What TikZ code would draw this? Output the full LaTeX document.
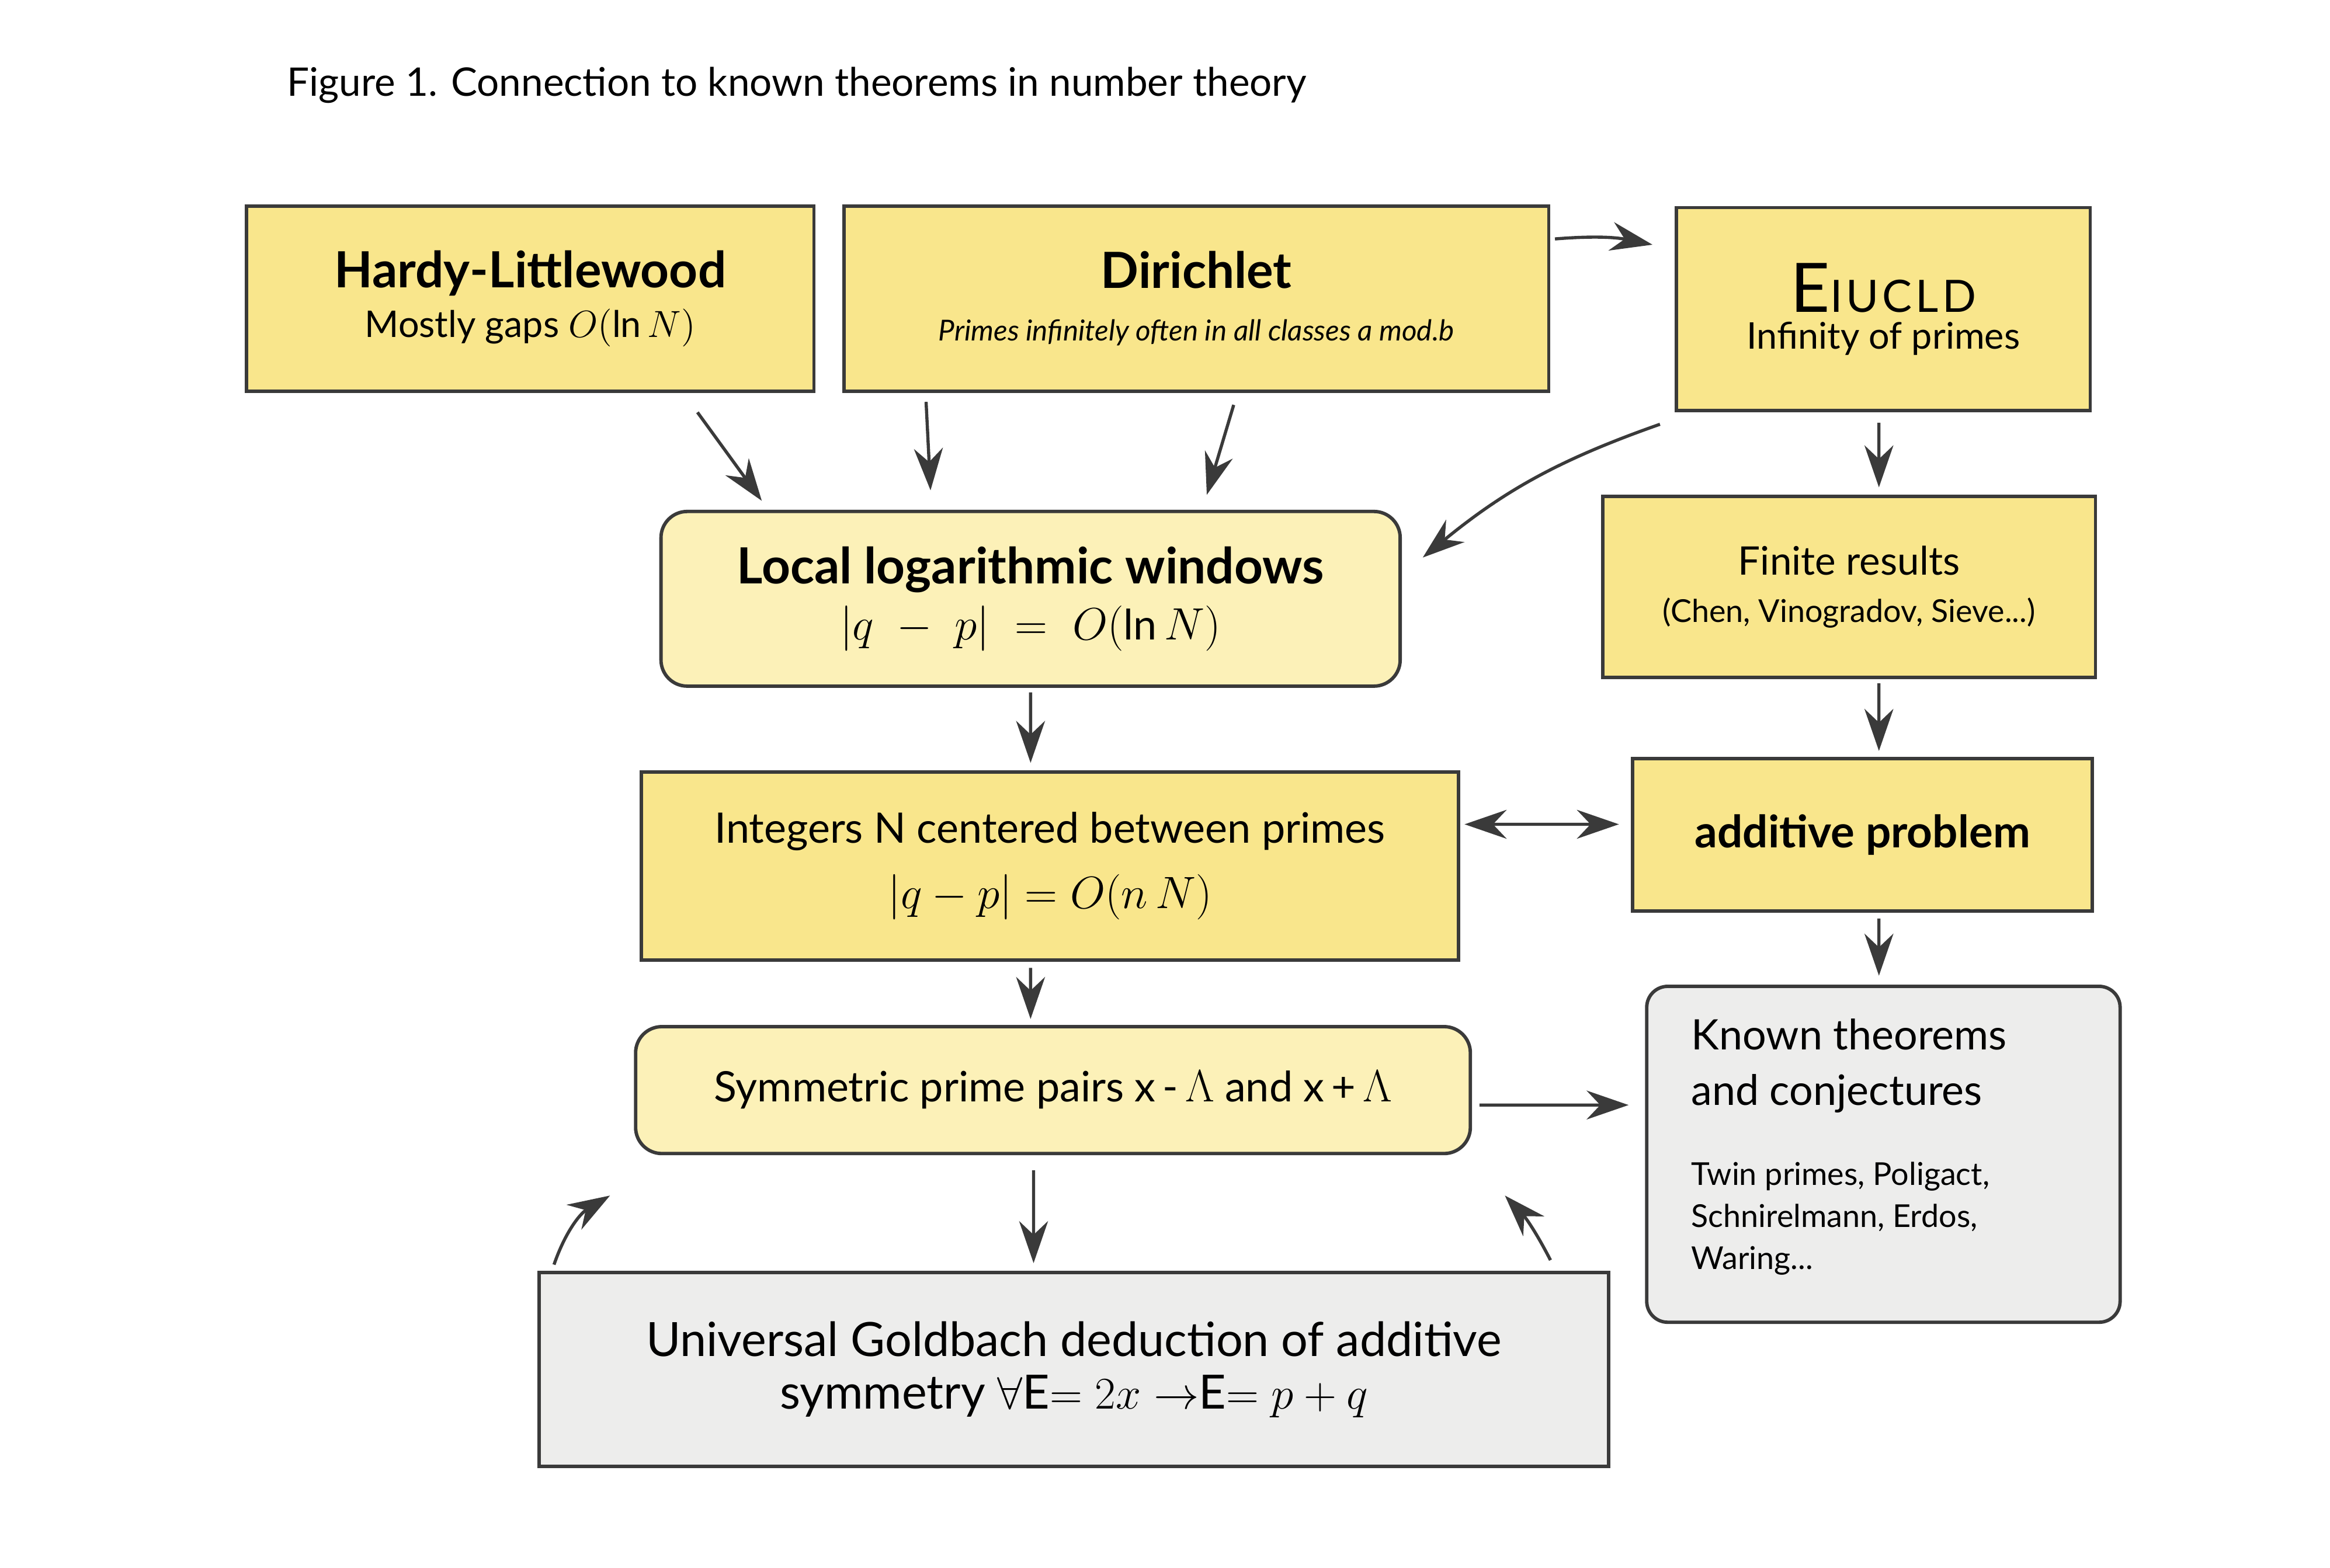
\documentclass[tikz,border=0pt]{standalone}
\usepackage{fontspec}
\setmainfont{Lato}
\usetikzlibrary{arrows.meta}
\definecolor{boxyellow}{HTML}{F9E68C}
\definecolor{paleyellow}{HTML}{FCF1B8}
\definecolor{boxgray}{HTML}{EDEDEC}
\definecolor{edgegray}{HTML}{3A3A3A}
\tikzset{
  box/.style={draw=edgegray, line width=1.3pt, fill=boxyellow, align=center, inner sep=0pt},
  softbox/.style={box, fill=paleyellow, rounded corners=10pt},
  greybox/.style={box, fill=boxgray},
  link/.style={-{Stealth[length=16pt,width=11pt]}, draw=edgegray, line width=1.2pt}
}
\begin{document}
\begin{tikzpicture}[x=0.02cm, y=-0.02cm]
  \useasboundingbox[fill=white] (0,0) rectangle (1560,1050);
  \node[anchor=west, font=\fontsize{15pt}{18pt}\selectfont] (title) at (186,57) {Figure 1. Connection to known theorems in number theory};

  % top row
  \node[box, minimum width=7.6cm, minimum height=2.48cm] (hardy) at (355,200)
    {{\fontsize{19pt}{24pt}\selectfont\bfseries Hardy-Littlewood}\\[4pt]{\fontsize{14pt}{18pt}\selectfont Mostly gaps $O(\ln N)$}};
  \node[box, minimum width=9.44cm, minimum height=2.48cm] (dirichlet) at (801,200)
    {{\fontsize{19pt}{24pt}\selectfont\bfseries Dirichlet}\\[8pt]{\fontsize{11pt}{14pt}\selectfont\itshape Primes infinitely often in all classes a mod.b}};
  \node[box, minimum width=5.54cm, minimum height=2.72cm] (euclid) at (1261,207)
    {{\fontsize{26pt}{30pt}\selectfont E}{\fontsize{17pt}{20pt}\selectfont\addfontfeature{LetterSpace=8} IUCLD}\\[2pt]{\fontsize{14pt}{18pt}\selectfont Infinity of primes}};

  % middle column
  \node[softbox, minimum width=9.9cm, minimum height=2.34cm] (local) at (690,401)
    {{\fontsize{19pt}{24pt}\selectfont\bfseries Local logarithmic windows}\\[4pt]{\fontsize{16pt}{20pt}\selectfont $|q\;-\;p|\;=\;O(\ln N)$}};
  \node[box, minimum width=10.94cm, minimum height=2.52cm] (integers) at (703,580)
    {{\fontsize{16pt}{20pt}\selectfont Integers N centered between primes}\\[8pt]{\fontsize{16pt}{20pt}\selectfont $|q-p|=O(n\,N)$}};
  \node[softbox, minimum width=11.18cm, minimum height=1.7cm] (symmetric) at (705,730)
    {\fontsize{16pt}{20pt}\selectfont Symmetric prime pairs x\,-\,$\Lambda$ and x\,+\,$\Lambda$};
  \node[greybox, minimum width=14.32cm, minimum height=2.6cm] (goldbach) at (719,917)
    {{\fontsize{18pt}{23pt}\selectfont Universal Goldbach deduction of additive}\\[6pt]{\fontsize{18pt}{23pt}\selectfont symmetry $\forall$E$=2x\to$E$=p+q$}};

  % right column
  \node[box, minimum width=6.6cm, minimum height=2.42cm] (finite) at (1238,393)
    {{\fontsize{15pt}{19pt}\selectfont Finite results}\\[6pt]{\fontsize{12pt}{15pt}\selectfont (Chen, Vinogradov, Sieve...)}};
  \node[box, minimum width=6.16cm, minimum height=2.04cm] (additive) at (1247,559)
    {\fontsize{17pt}{21pt}\selectfont\bfseries additive problem};
  \node[greybox, rounded corners=8pt, minimum width=6.34cm, minimum height=4.5cm] (known) at (1261,773) {};
  \node[anchor=north west, align=left, inner sep=0pt, font=\fontsize{16pt}{21pt}\selectfont] (knowntitle) at (1132,682)
    {Known theorems\\and conjectures};
  \node[anchor=north west, align=left, inner sep=0pt, font=\fontsize{12pt}{16pt}\selectfont] (knownlist) at (1132,778)
    {Twin primes, Poligact,\\Schnirelmann, Erdos,\\Waring...};

  % connectors
  \draw[link] ([xshift=0.06cm,yshift=0.8cm]dirichlet.east) to[bend left=8] ([xshift=-0.3cm,yshift=-0.52cm]euclid.north west);
  \draw[link] ([xshift=2.24cm,yshift=-0.26cm]hardy.south) -- ([xshift=-3.6cm,yshift=0.12cm]local.north);
  \draw[link] ([xshift=-3.62cm,yshift=-0.12cm]dirichlet.south) -- ([xshift=-1.34cm,yshift=0.26cm]local.north);
  \draw[link] ([xshift=0.5cm,yshift=-0.16cm]dirichlet.south) -- ([xshift=2.36cm,yshift=0.2cm]local.north);
  \draw[link] ([xshift=-0.2cm,yshift=-0.16cm]euclid.south west) to[bend right=10] ([xshift=0.28cm,yshift=-0.64cm]local.north east);
  \draw[link] ([xshift=-0.06cm,yshift=-0.14cm]euclid.south) -- ([xshift=0.4cm,yshift=0.1cm]finite.north);
  \draw[link] ([yshift=-0.06cm]local.south) -- ([xshift=-0.26cm,yshift=0.1cm]integers.north);
  \draw[link] ([xshift=0.4cm,yshift=-0.06cm]finite.south) -- ([xshift=0.22cm,yshift=0.08cm]additive.north);
  \draw[{Stealth[length=16pt,width=11pt]}-{Stealth[length=16pt,width=11pt]}, draw=edgegray, line width=1.2pt]
    ([xshift=0.06cm,yshift=0.56cm]integers.east) -- ([xshift=-0.16cm,yshift=0.14cm]additive.west);
  \draw[link] ([xshift=-0.26cm,yshift=-0.08cm]integers.south) -- ([xshift=-0.3cm,yshift=0.08cm]symmetric.north);
  \draw[link] ([xshift=0.22cm,yshift=-0.08cm]additive.south) -- ([xshift=-0.06cm,yshift=0.12cm]known.north);
  \draw[link] ([xshift=0.1cm,yshift=-0.2cm]symmetric.east) -- ([xshift=-0.22cm,yshift=0.66cm]known.west);
  \draw[link] ([xshift=-0.26cm,yshift=-0.2cm]symmetric.south) -- ([xshift=-0.54cm,yshift=0.1cm]goldbach.north);
  \draw[link] ([xshift=0.22cm,yshift=0.08cm]goldbach.north west) to[bend left=20] ([xshift=-0.32cm,yshift=-0.54cm]symmetric.south west);
  \draw[link] ([xshift=-0.8cm,yshift=0.14cm]goldbach.north east) to[bend right=8] ([xshift=0.44cm,yshift=-0.54cm]symmetric.south east);
\end{tikzpicture}
\end{document}
